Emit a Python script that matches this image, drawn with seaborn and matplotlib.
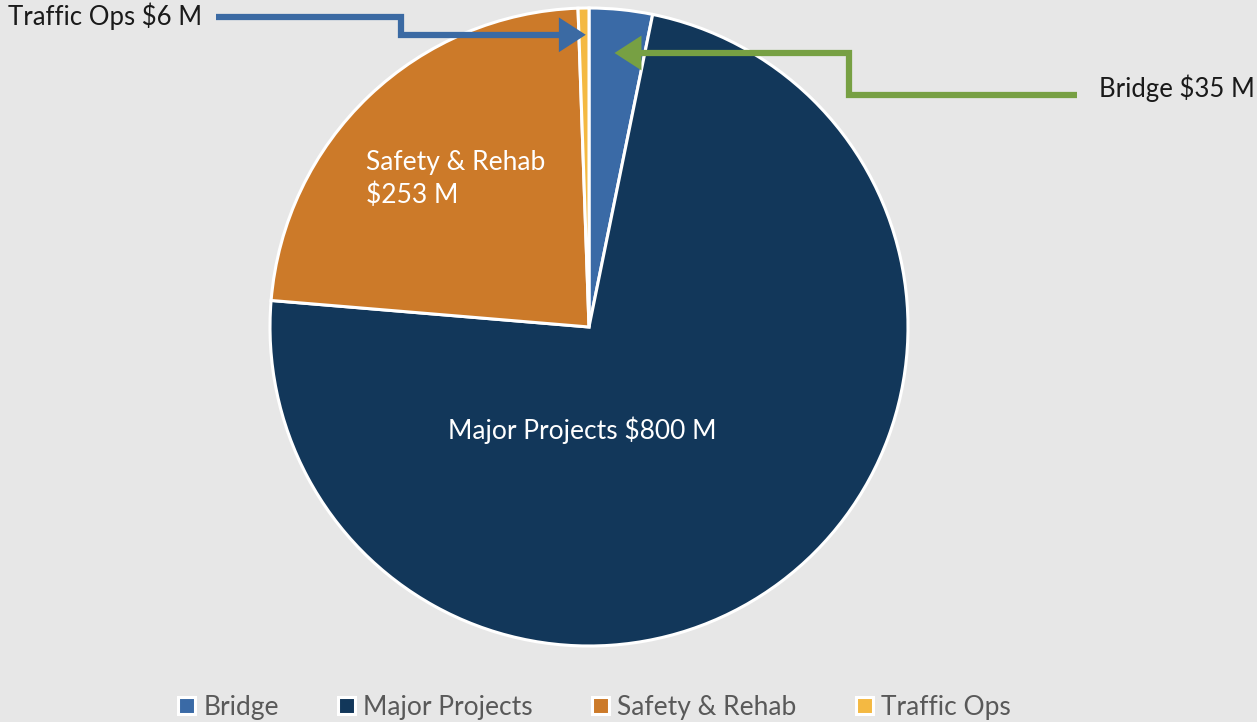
import matplotlib
matplotlib.use("Agg")
import matplotlib.pyplot as plt
import seaborn as sns
from matplotlib.patches import FancyArrowPatch
from matplotlib.path import Path

categories = ["Bridge", "Major Projects", "Safety & Rehab", "Traffic Ops"]
values = [35, 800, 253, 6]
colors = ["#3A6AA6", "#12375A", "#CC7A29", "#F4B942"]

sns.set_style("white")
plt.rcParams["font.family"] = ["Lato", "DejaVu Sans"]

bg = "#E7E7E7"
fig = plt.figure(figsize=(12.57, 7.22), dpi=100, facecolor=bg)
# axes sized so the pie sits where it does in the reference
ax = fig.add_axes([270 / 1257, (722 - 646) / 722, 638 / 1257, 638 / 722])
ax.set_facecolor(bg)

wedges, _ = ax.pie(
    values,
    colors=sns.color_palette(colors),
    startangle=90,
    counterclock=False,
    radius=1,
    wedgeprops=dict(edgecolor="white", linewidth=2.2),
)
ax.set_xlim(-1, 1)
ax.set_ylim(-1, 1)
ax.set_aspect("equal")
ax.axis("off")

# labels inside the big slices
ax.text(-0.02, -0.325, f"Major Projects ${values[1]} M", color="white",
        fontsize=19, ha="center", va="center")
ax.text(-0.70, 0.465, f"Safety & Rehab\n${values[2]} M", color="white",
        fontsize=19, ha="left", va="center", linespacing=1.35)

# callouts for the thin slices
arrow_style = "-|>,head_length=0.65,head_width=0.42"
ax.text(-1.82, 0.975, f"Traffic Ops ${values[3]} M", fontsize=18.5, ha="left",
        va="center", color="#1a1a1a", clip_on=False)
p1 = Path([(-1.17, 0.972), (-0.59, 0.972), (-0.59, 0.916), (-0.01, 0.916)],
          [Path.MOVETO, Path.LINETO, Path.LINETO, Path.LINETO])
a1 = FancyArrowPatch(path=p1, arrowstyle=arrow_style,
                     mutation_scale=20, color="#3B6AA3", linewidth=4.5,
                     joinstyle="miter", capstyle="butt", clip_on=False)
ax.add_patch(a1)

ax.text(1.60, 0.75, f"Bridge ${values[0]} M", fontsize=18.5, ha="left",
        va="center", color="#1a1a1a", clip_on=False)
p2 = Path([(1.53, 0.727), (0.815, 0.727), (0.815, 0.859), (0.08, 0.859)],
          [Path.MOVETO, Path.LINETO, Path.LINETO, Path.LINETO])
a2 = FancyArrowPatch(path=p2, arrowstyle=arrow_style,
                     mutation_scale=20, color="#77A043", linewidth=4.5,
                     joinstyle="miter", capstyle="butt", clip_on=False)
ax.add_patch(a2)

leg = fig.legend(wedges, categories, loc="lower center", ncol=4,
                 bbox_to_anchor=(0.473, -0.03), frameon=False, fontsize=19,
                 handlelength=0.65, handleheight=0.65, handletextpad=0.3,
                 columnspacing=2.25, labelcolor="#595959")

fig.savefig("out.png", dpi=100, facecolor=bg)
